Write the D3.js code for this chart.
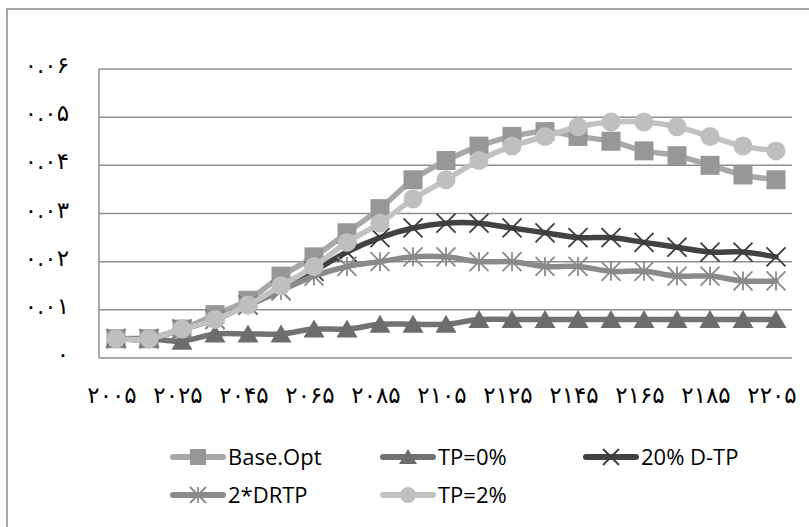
<!DOCTYPE html>
<html><head><meta charset="utf-8">
<script src="https://cdn.jsdelivr.net/npm/d3@7"></script>
<style>html,body{margin:0;padding:0;background:#fff;}svg{display:block;}</style>
</head><body>
<svg id="chart" width="809" height="527"></svg>
<script>
// ---- data ----
const years = [2005,2015,2025,2035,2045,2055,2065,2075,2085,2095,2105,2115,2125,2135,2145,2155,2165,2175,2185,2195,2205];
const xTickYears = [2005,2025,2045,2065,2085,2105,2125,2145,2165,2185,2205];
const xTickLabels = ["۲۰۰۵","۲۰۲۵","۲۰۴۵","۲۰۶۵","۲۰۸۵","۲۱۰۵","۲۱۲۵","۲۱۴۵","۲۱۶۵","۲۱۸۵","۲۲۰۵"];
const yTickValues = [0,0.01,0.02,0.03,0.04,0.05,0.06];
const yTickLabels = ["۰","۰.۰۱","۰.۰۲","۰.۰۳","۰.۰۴","۰.۰۵","۰.۰۶"];
const seriesNames = ["Base.Opt","TP=0%","20% D-TP","2*DRTP","TP=2%"];
const baseOpt = [0.004,0.004,0.006,0.009,0.012,0.017,0.021,0.026,0.031,0.037,0.041,0.044,0.046,0.047,0.046,0.045,0.043,0.042,0.040,0.038,0.037];
const tp0     = [0.004,0.004,0.0035,0.005,0.005,0.005,0.006,0.006,0.007,0.007,0.007,0.008,0.008,0.008,0.008,0.008,0.008,0.008,0.008,0.008,0.008];
const dtp20   = [0.004,0.004,0.006,0.008,0.011,0.014,0.018,0.022,0.025,0.027,0.028,0.028,0.027,0.026,0.025,0.025,0.024,0.023,0.022,0.022,0.021];
const drtp2   = [0.004,0.004,0.006,0.008,0.011,0.014,0.017,0.019,0.020,0.021,0.021,0.020,0.020,0.019,0.019,0.018,0.018,0.017,0.017,0.016,0.016];
const tp2     = [0.004,0.004,0.006,0.008,0.011,0.015,0.019,0.024,0.028,0.033,0.037,0.041,0.044,0.046,0.048,0.049,0.049,0.048,0.046,0.044,0.043];

const seriesValues = [baseOpt, tp0, dtp20, drtp2, tp2];
const styles = [
  {line:"#a8a8a8", mark:"#979797", shape:"square"},
  {line:"#727272", mark:"#6c6c6c", shape:"triangle"},
  {line:"#424242", mark:"#3c3c3c", shape:"x"},
  {line:"#8a8a8a", mark:"#8a8a8a", shape:"star"},
  {line:"#c2c2c2", mark:"#bfbfbf", shape:"circle"}
];

const svg = d3.select("#chart");
// outer frame
svg.append("rect").attr("x",7).attr("y",9).attr("width",820).attr("height",540)
  .attr("fill","none").attr("stroke","#8c8c8c").attr("stroke-width",1.5);

const x = d3.scalePoint().domain(years).range([116,776]);
const y = d3.scaleLinear().domain([0,0.06]).range([358,69]);
const plotL = 99, plotR = 792;

// gridlines
svg.append("g").selectAll("line").data(yTickValues.slice(1)).join("line")
  .attr("x1",plotL).attr("x2",plotR).attr("y1",d=>y(d)).attr("y2",d=>y(d))
  .attr("stroke","#8e8e8e").attr("stroke-width",1.5);
// axes lines
svg.append("line").attr("x1",plotL).attr("x2",plotR).attr("y1",y(0)).attr("y2",y(0))
  .attr("stroke","#8e8e8e").attr("stroke-width",1.5);
svg.append("line").attr("x1",plotL).attr("x2",plotL).attr("y1",y(0)).attr("y2",y(0.06))
  .attr("stroke","#8e8e8e").attr("stroke-width",1.5);

// y labels
svg.append("g").selectAll("text").data(yTickValues).join("text")
  .attr("x",69).attr("y",d=>y(d)+4).attr("text-anchor","end")
  .attr("font-family","DejaVu Sans").attr("font-size",23).attr("fill","#000")
  .text((d,i)=>yTickLabels[i]);
// x labels
svg.append("g").selectAll("text").data(xTickYears).join("text")
  .attr("x",d=>x(d)-4).attr("y",403).attr("text-anchor","middle")
  .attr("font-family","DejaVu Sans").attr("font-size",23).attr("fill","#000")
  .text((d,i)=>xTickLabels[i]);

function drawMarker(g, shape, color, cx, cy, s) {
  const h = s/2;
  if (shape==="square") {
    g.append("rect").attr("x",cx-h).attr("y",cy-h).attr("width",s).attr("height",s).attr("fill",color);
  } else if (shape==="triangle") {
    g.append("path").attr("d",`M${cx},${cy-h}L${cx+h+1},${cy+h-1}L${cx-h-1},${cy+h-1}Z`).attr("fill",color);
  } else if (shape==="circle") {
    g.append("circle").attr("cx",cx).attr("cy",cy).attr("r",h).attr("fill",color);
  } else if (shape==="x") {
    g.append("path").attr("d",`M${cx-h},${cy-h}L${cx+h},${cy+h}M${cx-h},${cy+h}L${cx+h},${cy-h}`)
      .attr("stroke",color).attr("stroke-width",1.8);
  } else if (shape==="star") {
    g.append("path").attr("d",`M${cx-h},${cy-h}L${cx+h},${cy+h}M${cx-h},${cy+h}L${cx+h},${cy-h}M${cx},${cy-h}L${cx},${cy+h}`)
      .attr("stroke",color).attr("stroke-width",1.8);
  }
}

const line = d3.line().x((d,i)=>x(years[i])).y(d=>y(d)).curve(d3.curveCatmullRom.alpha(0.5));
seriesValues.forEach((vals,k)=>{
  const st = styles[k];
  const g = svg.append("g");
  g.append("path").attr("d",line(vals)).attr("fill","none").attr("stroke",st.line)
    .attr("stroke-width",5.5).attr("stroke-linejoin","round").attr("stroke-linecap","round");
  vals.forEach((v,i)=>drawMarker(g, st.shape, st.mark, x(years[i]), y(v), 19));
});

// legend
const legendPos = [[170,457],[380,457],[583,457],[170,495],[380,495]];
seriesNames.forEach((name,k)=>{
  const st = styles[k];
  const [lx,ly] = legendPos[k];
  const g = svg.append("g");
  g.append("line").attr("x1",lx+3).attr("x2",lx+53).attr("y1",ly).attr("y2",ly)
    .attr("stroke",st.line).attr("stroke-width",6).attr("stroke-linecap","round");
  drawMarker(g, st.shape, st.mark, lx+28, ly, 16);
  g.append("text").attr("x",lx+58).attr("y",ly+8).attr("font-family","Open Sans")
    .attr("font-size",22).attr("fill","#000").text(name);
});
</script>
</body></html>
